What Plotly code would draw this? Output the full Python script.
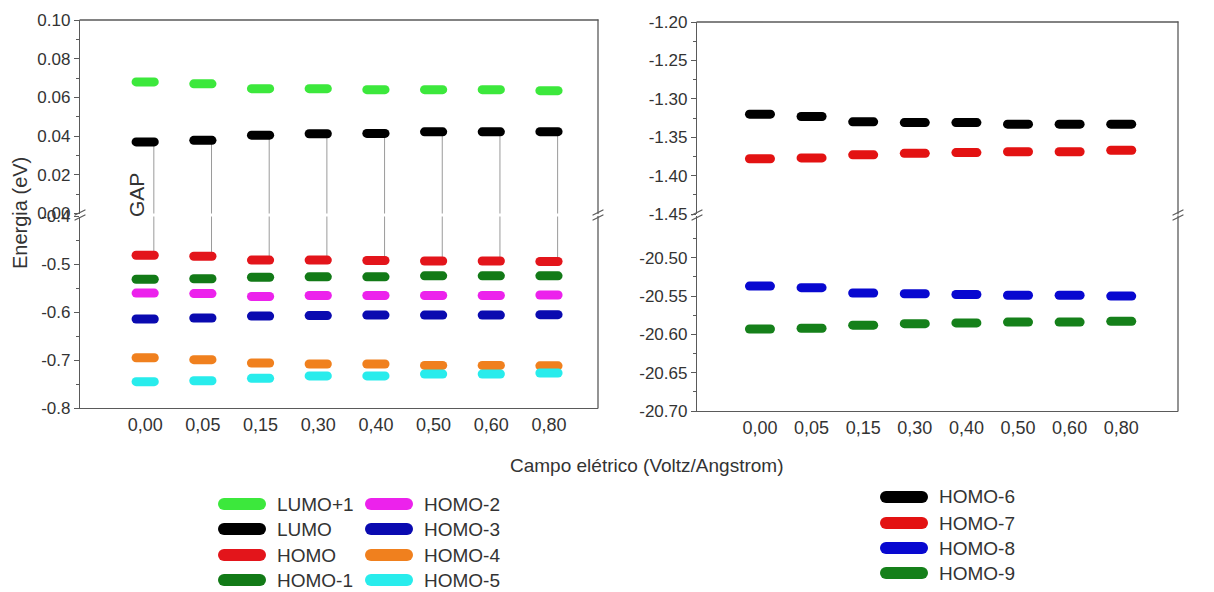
import plotly.graph_objects as go

# ---- data -------------------------------------------------------------
campo = ["0,00", "0,05", "0,15", "0,30", "0,40", "0,50", "0,60", "0,80"]

lumo_p1 = [0.068, 0.067, 0.0645, 0.0645, 0.064, 0.064, 0.064, 0.0635]
lumo = [0.037, 0.0378, 0.0405, 0.0412, 0.0414, 0.0422, 0.0422, 0.0423]
homo = [-0.481, -0.483, -0.491, -0.491, -0.492, -0.493, -0.493, -0.494]
homo_1 = [-0.531, -0.530, -0.527, -0.526, -0.526, -0.524, -0.524, -0.524]
homo_2 = [-0.560, -0.561, -0.567, -0.565, -0.565, -0.565, -0.565, -0.564]
homo_3 = [-0.614, -0.612, -0.608, -0.607, -0.606, -0.606, -0.606, -0.605]
homo_4 = [-0.695, -0.699, -0.706, -0.708, -0.708, -0.711, -0.711, -0.712]
homo_5 = [-0.745, -0.743, -0.738, -0.733, -0.733, -0.729, -0.729, -0.727]

homo_6 = [-1.320, -1.323, -1.330, -1.331, -1.331, -1.333, -1.333, -1.333]
homo_7 = [-1.378, -1.377, -1.373, -1.371, -1.370, -1.369, -1.369, -1.367]
homo_8 = [-20.537, -20.539, -20.546, -20.547, -20.548, -20.549, -20.549, -20.550]
homo_9 = [-20.593, -20.592, -20.588, -20.586, -20.585, -20.584, -20.584, -20.583]

# tick labels (hyphen minus, as printed)
yl_top_vals = [0.00, 0.02, 0.04, 0.06, 0.08, 0.10]
yl_top_text = ["0.00", "0.02", "0.04", "0.06", "0.08", "0.10"]
yl_bot_vals = [-0.8, -0.7, -0.6, -0.5, -0.4]
yl_bot_text = ["-0.8", "-0.7", "-0.6", "-0.5", "-0.4"]
yr_top_vals = [-1.45, -1.40, -1.35, -1.30, -1.25, -1.20]
yr_top_text = ["-1.45", "-1.40", "-1.35", "-1.30", "-1.25", "-1.20"]
yr_bot_vals = [-20.70, -20.65, -20.60, -20.55, -20.50]
yr_bot_text = ["-20.70", "-20.65", "-20.60", "-20.55", "-20.50"]

# axis ranges of the broken axes
YL_TOP = [0.0, 0.10]
YL_BOT = [-0.8, -0.4]
YR_TOP = [-1.45, -1.20]
YR_BOT = [-20.70, -20.4455]

left_series = [
    ("LUMO+1", lumo_p1, "#3ce83c", "y"),
    ("LUMO", lumo, "#000000", "y"),
    ("HOMO", homo, "#e3151b", "y2"),
    ("HOMO-1", homo_1, "#127a17", "y2"),
    ("HOMO-2", homo_2, "#ec22ec", "y2"),
    ("HOMO-3", homo_3, "#0a0ab0", "y2"),
    ("HOMO-4", homo_4, "#f0801e", "y2"),
    ("HOMO-5", homo_5, "#28ecec", "y2"),
]
right_series = [
    ("HOMO-6", homo_6, "#000000", "y3"),
    ("HOMO-7", homo_7, "#e31212", "y3"),
    ("HOMO-8", homo_8, "#0808d0", "y4"),
    ("HOMO-9", homo_9, "#15801a", "y4"),
]

# ---- geometry (pixels) -------------------------------------------------
W, H = 1214, 592
FONT = "Liberation Sans, Arial, sans-serif"
TXT = "#333333"
AX = "#5a5a5a"


def px(x):
    return x / W


def py(y):
    return 1 - y / H


xi = list(range(len(campo)))

fig = go.Figure()

# GAP connectors between LUMO and HOMO (crossing the axis break)
gx, gy_top, gy_bot = [], [], []
for i in xi:
    gx += [i + 0.15, i + 0.15, None]
    gy_top += [lumo[i], YL_TOP[0] - 1, None]
    gy_bot += [homo[i], YL_BOT[1] + 1, None]
line_style = dict(color="#9a9a9a", width=1)
fig.add_trace(go.Scatter(x=gx, y=gy_top, mode="lines", line=line_style,
                         xaxis="x", yaxis="y", showlegend=False, hoverinfo="skip"))
fig.add_trace(go.Scatter(x=gx, y=gy_bot, mode="lines", line=line_style,
                         xaxis="x", yaxis="y2", showlegend=False, hoverinfo="skip"))

# energy levels drawn as short horizontal bars
for name, vals, col, ya in left_series:
    fig.add_trace(go.Scatter(
        x=xi, y=vals, name=name, mode="markers", xaxis="x", yaxis=ya,
        marker=dict(symbol="line-ew", size=13, color=col,
                    line=dict(color=col, width=9)),
        showlegend=False))
for name, vals, col, ya in right_series:
    fig.add_trace(go.Scatter(
        x=xi, y=vals, name=name, mode="markers", xaxis="x2", yaxis=ya,
        marker=dict(symbol="line-ew", size=15, color=col,
                    line=dict(color=col, width=9)),
        showlegend=False))

tickfont = dict(family=FONT, size=17, color=TXT)
yax_common = dict(showline=True, linecolor=AX, linewidth=1.3, ticks="outside",
                  ticklen=5, tickwidth=1.2, tickcolor=AX, showgrid=False,
                  zeroline=False, tickfont=tickfont, tickmode="array")
xax_common = dict(showline=True, linecolor=AX, linewidth=1.3, ticks="",
                  showgrid=False, zeroline=False, tickmode="array",
                  tickvals=xi, ticktext=campo,
                  tickfont=dict(family=FONT, size=18, color=TXT))


def minor(vals):
    return dict(ticks="outside", ticklen=3, tickwidth=1, tickcolor=AX,
                tickmode="array", tickvals=vals, showgrid=False)


fig.update_layout(
    width=W, height=H, template="none",
    paper_bgcolor="white", plot_bgcolor="white",
    margin=dict(l=0, r=0, t=0, b=0),
    showlegend=False,
    xaxis=dict(domain=[px(80), px(598)], anchor="y2", range=[-1.13, 7.85],
               **xax_common),
    yaxis=dict(domain=[py(213.5), py(20)], anchor="x", range=YL_TOP,
               tickvals=yl_top_vals, ticktext=yl_top_text,
               minor=minor([0.01, 0.03, 0.05, 0.07, 0.09]), **yax_common),
    yaxis2=dict(domain=[py(408), py(216.5)], anchor="x", range=YL_BOT,
                tickvals=yl_bot_vals, ticktext=yl_bot_text,
                minor=minor([-0.75, -0.65, -0.55, -0.45]), **yax_common),
    xaxis2=dict(domain=[px(697), px(1178)], anchor="y4", range=[-1.22, 8.1],
                **xax_common),
    yaxis3=dict(domain=[py(214), py(22)], anchor="x2", range=YR_TOP,
                tickvals=yr_top_vals, ticktext=yr_top_text,
                minor=minor([-1.425, -1.375, -1.325, -1.275, -1.225]),
                **yax_common),
    yaxis4=dict(domain=[py(411), py(216)], anchor="x2", range=YR_BOT,
                tickvals=yr_bot_vals, ticktext=yr_bot_text,
                minor=minor([-20.675, -20.625, -20.575, -20.525, -20.475]),
                **yax_common),
)

shapes = []
frame = dict(color=AX, width=1.3)
# top and right borders of both panels
for xa, ya_top, ya_bot in (("x", "y", "y2"), ("x2", "y3", "y4")):
    shapes.append(dict(type="line", xref=f"{xa} domain", yref=f"{ya_top} domain",
                       x0=0, x1=1, y0=1, y1=1, line=frame))
    for ya in (ya_top, ya_bot):
        shapes.append(dict(type="line", xref=f"{xa} domain", yref=f"{ya} domain",
                           x0=1, x1=1, y0=0, y1=1, line=frame))

# "//" break marks on the broken axes
for bx, by in ((80, 215), (598, 215), (697, 215), (1178, 215)):
    for off in (-2.5, 2.5):
        shapes.append(dict(type="line", xref="paper", yref="paper",
                           x0=px(bx - 5), x1=px(bx + 5),
                           y0=py(by + off + 2.5), y1=py(by + off - 2.5),
                           line=dict(color=AX, width=1.2)))

annotations = []
# legend blocks
legend_left = [
    (left_series[0], 218, 504), (left_series[1], 218, 529),
    (left_series[2], 218, 555), (left_series[3], 218, 580),
    (left_series[4], 365, 504), (left_series[5], 365, 529),
    (left_series[6], 365, 555), (left_series[7], 365, 580),
]
legend_right = [
    (right_series[0], 880, 497), (right_series[1], 880, 523),
    (right_series[2], 880, 548), (right_series[3], 880, 573),
]
for (name, _v, col, _a), lx, ly in legend_left + legend_right:
    shapes.append(dict(type="line", xref="paper", yref="paper",
                       x0=px(lx + 6), x1=px(lx + 42), y0=py(ly), y1=py(ly),
                       line=dict(color=col, width=12)))
    annotations.append(dict(xref="paper", yref="paper", x=px(lx + 57), y=py(ly),
                            xanchor="left", yanchor="middle", showarrow=False,
                            text=name, font=dict(family=FONT, size=19, color=TXT)))

annotations += [
    dict(xref="paper", yref="paper", x=px(20), y=py(213), text="Energia (eV)",
         textangle=-90, showarrow=False, xanchor="center", yanchor="middle",
         font=dict(family=FONT, size=20, color=TXT)),
    dict(xref="paper", yref="paper", x=px(647), y=py(465),
         text="Campo elétrico (Voltz/Angstrom)", showarrow=False,
         xanchor="center", yanchor="middle",
         font=dict(family=FONT, size=19, color=TXT)),
    dict(xref="paper", yref="paper", x=px(136), y=py(195), text="GAP",
         textangle=-90, showarrow=False, xanchor="center", yanchor="middle",
         font=dict(family=FONT, size=21, color=TXT)),
]

fig.update_layout(shapes=shapes, annotations=annotations)

# rounded ends for the level bars and legend swatches
post = """
var gd = document.getElementById('{plot_id}');
function roundCaps() {
  gd.querySelectorAll('.scatterlayer path.point, .shapelayer path').forEach(function(p) {
    p.style.strokeLinecap = 'round';
  });
}
roundCaps();
gd.on('plotly_afterplot', roundCaps);
"""
fig.write_html("out.html", post_script=post)
